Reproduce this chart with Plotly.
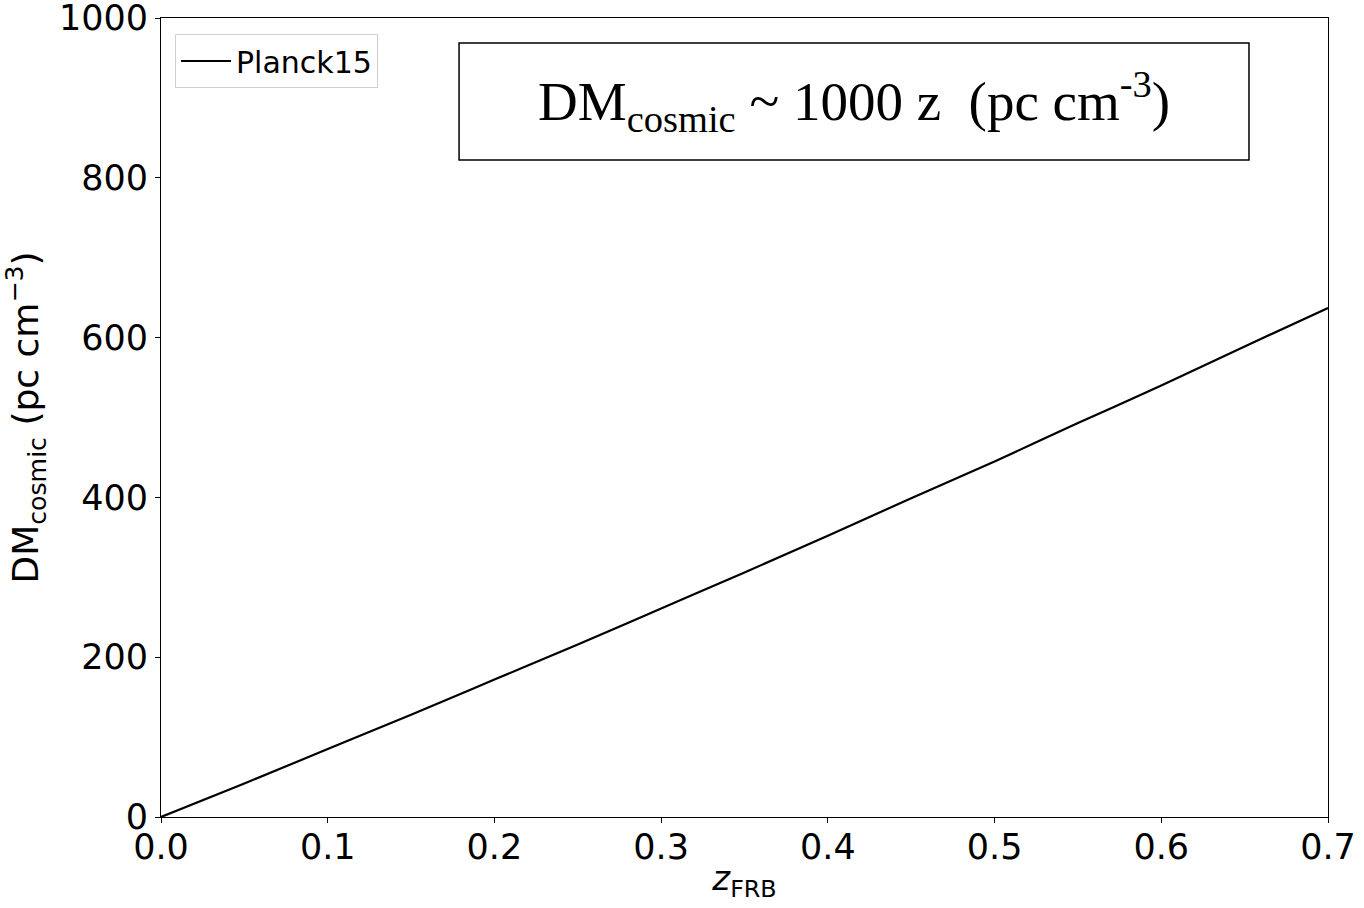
import plotly.graph_objects as go

# Data (Planck15 DM_cosmic vs z)
z_frb = [0.0, 0.05, 0.10, 0.15, 0.20, 0.25, 0.30, 0.35, 0.40, 0.45, 0.50, 0.55, 0.60, 0.65, 0.70]
dm_cosmic = [0, 42, 85, 128, 172, 216, 261, 306, 352, 399, 445, 493, 540, 589, 637]

x_ticks = [0.0, 0.1, 0.2, 0.3, 0.4, 0.5, 0.6, 0.7]
x_ticklabels = ["0.0", "0.1", "0.2", "0.3", "0.4", "0.5", "0.6", "0.7"]
y_ticks = [0, 200, 400, 600, 800, 1000]
y_ticklabels = ["0", "200", "400", "600", "800", "1000"]

fig = go.Figure()
fig.add_trace(go.Scatter(x=z_frb, y=dm_cosmic, mode="lines", name="Planck15",
                         line=dict(color="black", width=2.2), line_shape="spline"))

fig.update_layout(
    width=1364, height=908,
    margin=dict(l=161, r=36, t=18, b=91),
    paper_bgcolor="white", plot_bgcolor="white",
    font=dict(family="DejaVu Sans", size=35, color="black"),
    showlegend=True,
    legend=dict(x=0.012, y=0.98, xanchor="left", yanchor="top",
                bgcolor="rgba(255,255,255,0.8)", bordercolor="#d0d0d0", borderwidth=1,
                font=dict(size=30, family="DejaVu Sans"), itemwidth=50),
)
fig.update_xaxes(range=[0, 0.7], tickvals=x_ticks, ticktext=x_ticklabels,
                 showline=True, mirror=True, linecolor="black", linewidth=1,
                 ticks="outside", ticklen=5, tickwidth=1, tickcolor="black",
                 showgrid=False, zeroline=False, automargin=False,
                 ticklabeloverflow="allow", ticklabelstandoff=-6,
                 title=dict(text="<i>z</i><sub>FRB</sub>", standoff=0, font=dict(size=34)))
fig.update_yaxes(range=[0, 1000], tickvals=y_ticks, ticktext=y_ticklabels,
                 showline=True, mirror=True, linecolor="black", linewidth=1,
                 ticks="outside", ticklen=5, tickwidth=1, tickcolor="black",
                 showgrid=False, zeroline=False, automargin=False,
                 ticklabeloverflow="allow",
                 title=dict(text="DM<sub>cosmic</sub> (pc cm<sup>−3</sup>)", standoff=14, font=dict(size=36)))

# Inset box with formula
fig.add_shape(type="rect", xref="paper", yref="paper",
              x0=0.2554, x1=0.9323, y0=0.8223, y1=0.9687,
              line=dict(color="black", width=1.5), fillcolor="white")
fig.add_annotation(xref="paper", yref="paper", x=0.594, y=0.895,
                   xanchor="center", yanchor="middle", showarrow=False,
                   text="DM<sub>cosmic</sub> ~ 1000 z  (pc cm<sup>-3</sup>)",
                   font=dict(family="Liberation Serif", size=55, color="black"))

fig.write_html("out.html")
